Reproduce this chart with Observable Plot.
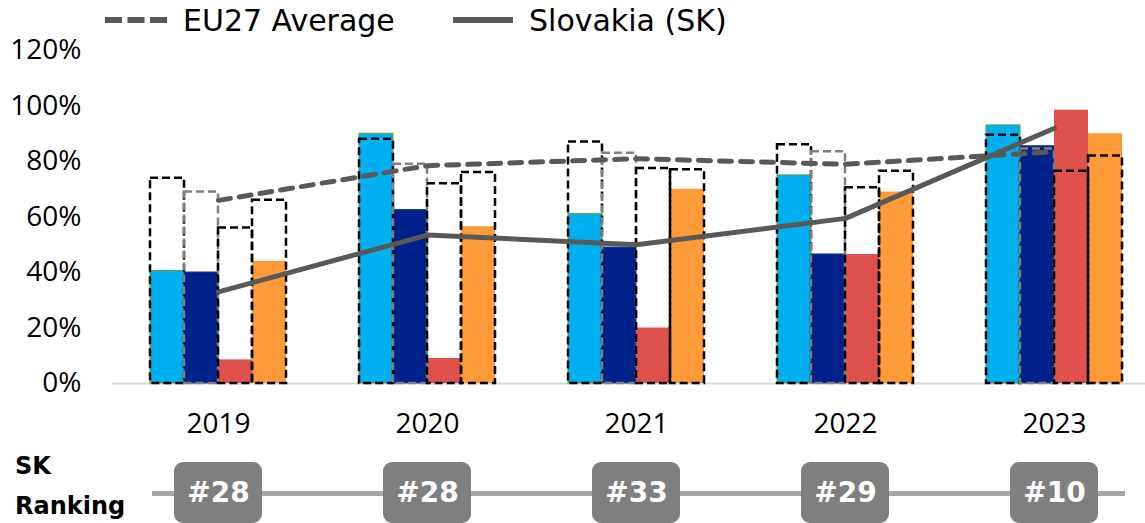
<!DOCTYPE html>
<html>
<head>
<meta charset="utf-8">
<script src="https://cdn.jsdelivr.net/npm/d3@7"></script>
<script src="https://cdn.jsdelivr.net/npm/@observablehq/plot@0.6"></script>
<style>
  html, body { margin: 0; padding: 0; background: #fff; }
  #wrap { position: relative; width: 1145px; height: 523px; overflow: hidden; }
  #legend { position: absolute; left: 0; top: 0; width: 1145px; height: 42px; font-family: "DejaVu Sans", sans-serif; font-size: 30px; color: #000; z-index: 2; }
  .li { position: absolute; top: 0; height: 40px; display: flex; align-items: center; white-space: nowrap; }
  .li svg { display: block; margin-right: 16px; }
  #rankLabel { position: absolute; left: 15px; top: 446px; font-family: "DejaVu Sans", sans-serif; font-weight: bold; font-size: 24px; line-height: 40px; color: #000; }
  svg { display: block; }
</style>
</head>
<body>
<div id="wrap">
  <div id="main"></div>
  <div id="rank"></div>
  <div id="legend">
    <div class="li" style="left:105px"><svg width="62" height="8"><line x1="0" y1="4" x2="62" y2="4" stroke="#595959" stroke-width="6" stroke-dasharray="17,5.5"/></svg><span>EU27 Average</span></div>
    <div class="li" style="left:453px"><svg width="60" height="8"><line x1="0" y1="4" x2="60" y2="4" stroke="#595959" stroke-width="6"/></svg><span>Slovakia (SK)</span></div>
  </div>
  <div id="rankLabel">SK<br>Ranking</div>
</div>
<script>
// ---------- data ----------
const years = ["2019", "2020", "2021", "2022", "2023"];
const seriesNames = ["Indicator 1", "Indicator 2", "Indicator 3", "Indicator 4"];
const seriesColors = ["#00B0F0", "#00208A", "#DF514C", "#FF9A38"];
const outlineColors = ["#000000", "#808080", "#000000", "#000000"];

// Slovakia values per indicator (%)
const skIndicator1 = [40.5, 90, 61, 75, 93];
const skIndicator2 = [40, 62.5, 49, 46.5, 85.5];
const skIndicator3 = [8.5, 9, 20, 46.5, 98.5];
const skIndicator4 = [44, 56.5, 70, 69, 90];

// EU27 values per indicator (%) - dashed outlines
const euIndicator1 = [74, 88, 87, 86, 89.5];
const euIndicator2 = [69, 79, 83, 83.5, 84.5];
const euIndicator3 = [56, 72, 77.5, 70.5, 76.5];
const euIndicator4 = [66, 76, 77, 76.5, 82];

// Lines (%)
const euAverage = [66, 78.5, 81, 79, 83.5];
const skAverage = [33, 53.5, 50, 59.5, 92];

// Ranking
const skRanking = [28, 28, 33, 29, 10];

const yTicks = [0, 20, 40, 60, 80, 100, 120];

// ---------- tables ----------
const skSeries = [skIndicator1, skIndicator2, skIndicator3, skIndicator4];
const euSeries = [euIndicator1, euIndicator2, euIndicator3, euIndicator4];
const toRows = (arr) => years.map((year, i) => ({year, value: arr[i]}));
const rankRows = years.map((year, i) => ({year, rank: skRanking[i]}));

// ---------- shared x scale ----------
const xScaleOpts = {
  type: "band",
  domain: years,
  range: [112.4, 1158.6],
  paddingInner: 0.35,
  paddingOuter: 0.175
};
const bw = Plot.scale({x: xScaleOpts}).bandwidth;
const slot = bw / 4;

const marks = [Plot.ruleY([0], {stroke: "#D9D9D9", strokeWidth: 2})];
skSeries.forEach((arr, k) => {
  marks.push(Plot.barY(toRows(arr), {
    x: "year", y: "value", fill: seriesColors[k],
    stroke: k === 0 ? "#5E9C3C" : k === 1 ? "#1F3A8A" : "none", strokeWidth: 1,
    insetLeft: k * slot, insetRight: (3 - k) * slot
  }));
});
euSeries.forEach((arr, k) => {
  marks.push(Plot.barY(toRows(arr), {
    x: "year", y: "value", fill: "none",
    stroke: outlineColors[k], strokeWidth: 2.5, strokeDasharray: "8,4",
    insetLeft: k * slot, insetRight: (3 - k) * slot
  }));
});
marks.push(Plot.lineY(toRows(euAverage), {
  x: "year", y: "value", stroke: "#595959", strokeWidth: 5,
  strokeDasharray: "12,9", strokeLinecap: "round"
}));
marks.push(Plot.lineY(toRows(skAverage), {
  x: "year", y: "value", stroke: "#595959", strokeWidth: 5
}));

const main = Plot.plot({
  width: 1145,
  height: 445,
  marginTop: 50,
  marginBottom: 62,
  marginLeft: 112,
  marginRight: 0,
  style: {fontFamily: "'Open Sans', sans-serif", fontSize: "28px", color: "#000", background: "transparent"},
  x: {...xScaleOpts, label: null, tickSize: 0, tickPadding: 30},
  y: {domain: [0, 120], ticks: yTicks, tickFormat: d => d + "%", label: null, tickSize: 0, tickPadding: 31},
  marks
});
document.getElementById("main").appendChild(main);

const rank = Plot.plot({
  width: 1145,
  height: 78,
  marginTop: 17,
  marginBottom: 0,
  marginLeft: 152,
  marginRight: 20,
  style: {fontFamily: "'DejaVu Sans', sans-serif", background: "transparent"},
  x: {...xScaleOpts, axis: null},
  y: {type: "point", domain: ["SK"], axis: null},
  marks: [
    Plot.ruleY(["SK"], {stroke: "#A6A6A6", strokeWidth: 5}),
    Plot.cell(rankRows, {x: "year", fill: "#7F7F7F", rx: 9, insetLeft: (bw - 88) / 2, insetRight: (bw - 88) / 2}),
    Plot.text(rankRows, {x: "year", y: () => "SK", text: d => "#" + d.rank, fill: "#fff", fontWeight: "bold", fontSize: 28})
  ]
});
document.getElementById("rank").appendChild(rank);
</script>
</body>
</html>
